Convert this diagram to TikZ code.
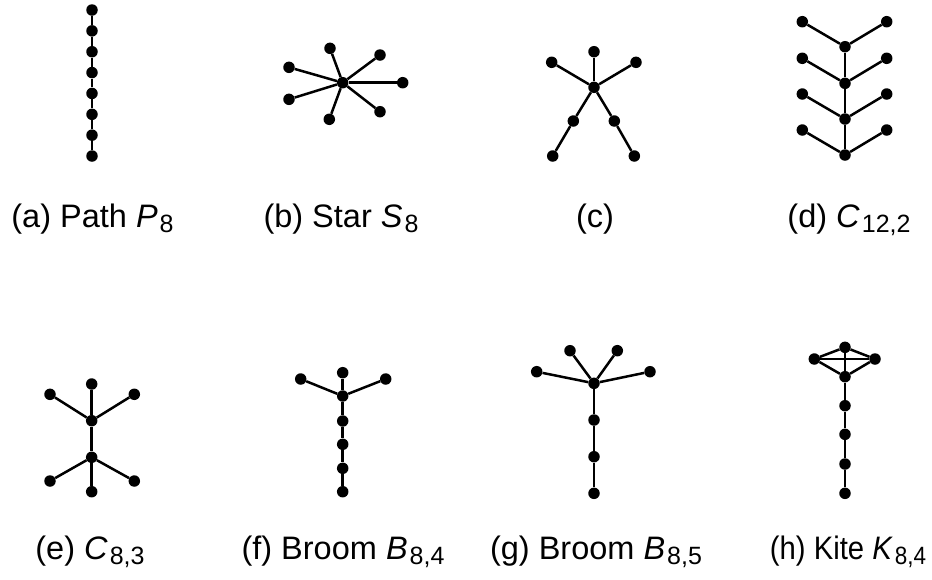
\documentclass[tikz,border=0pt]{standalone}
\usepackage{fontspec}
\setmainfont{Liberation Sans}
\tikzset{
  v/.style={circle,fill=black,inner sep=0pt,minimum size=11.5pt},
  e/.style={line width=2.5pt},
  lab/.style={anchor=base,inner sep=0pt,font=\fontsize{32.5}{38}\selectfont}
}
\newcommand{\subx}[1]{\kern2pt\raisebox{-5pt}{\fontsize{25}{30}\selectfont #1}}
\begin{document}
\begin{tikzpicture}[x=1pt,y=-1pt]
\useasboundingbox (0,0) rectangle (932,579);
% (a) path
\foreach \i in {0,...,7} \node[v] (a\i) at (92,10+20.86*\i) {};
\foreach \i [remember=\i as \j (initially 0)] in {1,...,7} \draw[e] (a\j) -- (a\i);
% (b) star
\node[v] (b0) at (342.7,82.7) {};
\node[v] (b1) at (330,48.3) {};
\node[v] (b2) at (380,55) {};
\node[v] (b3) at (289,67.3) {};
\node[v] (b4) at (402.7,82.7) {};
\node[v] (b5) at (289,99.3) {};
\node[v] (b6) at (380,111.7) {};
\node[v] (b7) at (329.3,119.3) {};
\foreach \i in {1,...,7} \draw[e] (b0) -- (b\i);
% (c)
\node[v] (c0) at (594,87.3) {};
\node[v] (c1) at (594,51.7) {};
\node[v] (c2) at (551.7,62.3) {};
\node[v] (c3) at (636,62.3) {};
\node[v] (c4) at (573.3,121) {};
\node[v] (c5) at (614.3,121) {};
\node[v] (c6) at (552.7,156) {};
\node[v] (c7) at (634.3,156) {};
\foreach \i in {1,...,5} \draw[e] (c0) -- (c\i);
\draw[e] (c4) -- (c6);
\draw[e] (c5) -- (c7);
% (d) C_{12,2}
\foreach \i/\y in {1/46.7,2/83.3,3/119,4/155} {
  \node[v] (d\i) at (845,\y) {};
  \node[v] (dl\i) at (802.3,\y-25) {};
  \node[v] (dr\i) at (886.7,\y-25) {};
  \draw[e] (d\i) -- (dl\i);
  \draw[e] (d\i) -- (dr\i);
}
\draw[e] (d1) -- (d2);
\draw[e] (d2) -- (d3);
\draw[e] (d3) -- (d4);
% (e) C_{8,3}
\node[v] (e1) at (91.7,420.7) {};
\node[v] (e2) at (91.7,457.3) {};
\node[v] (e3) at (91.7,384) {};
\node[v] (e4) at (50,394.3) {};
\node[v] (e5) at (134.3,394.3) {};
\node[v] (e6) at (50,481) {};
\node[v] (e7) at (134.3,481) {};
\node[v] (e8) at (91.7,491.7) {};
\draw[e] (e1) -- (e2);
\draw[e] (e1) -- (e3);
\draw[e] (e1) -- (e4);
\draw[e] (e1) -- (e5);
\draw[e] (e2) -- (e6);
\draw[e] (e2) -- (e7);
\draw[e] (e2) -- (e8);
% (f) Broom B_{8,4}
\node[v] (f0) at (342.7,396) {};
\node[v] (f1) at (342.7,372.7) {};
\node[v] (f2) at (300.7,379) {};
\node[v] (f3) at (385.7,379) {};
\node[v] (f4) at (342.7,421) {};
\node[v] (f5) at (342.7,444.3) {};
\node[v] (f6) at (342.7,468.3) {};
\node[v] (f7) at (342.7,491.7) {};
\foreach \i in {1,2,3,4} \draw[e] (f0) -- (f\i);
\draw[e] (f4) -- (f5);
\draw[e] (f5) -- (f6);
\draw[e] (f6) -- (f7);
% (g) Broom B_{8,5}
\node[v] (g0) at (594,383.3) {};
\node[v] (g1) at (570,350.7) {};
\node[v] (g2) at (617.3,350.7) {};
\node[v] (g3) at (536.7,371.7) {};
\node[v] (g4) at (650,371.7) {};
\node[v] (g5) at (594,420) {};
\node[v] (g6) at (594,456.7) {};
\node[v] (g7) at (594,493.3) {};
\foreach \i in {1,...,5} \draw[e] (g0) -- (g\i);
\draw[e] (g5) -- (g6);
\draw[e] (g6) -- (g7);
% (h) Kite K_{8,4}
\node[v] (h1) at (845,347.3) {};
\node[v] (h2) at (814.3,359) {};
\node[v] (h3) at (875,359) {};
\node[v] (h4) at (845,376.7) {};
\node[v] (h5) at (845,405.7) {};
\node[v] (h6) at (845,434.3) {};
\node[v] (h7) at (845,464) {};
\node[v] (h8) at (845,493.3) {};
\draw[e] (h1) -- (h2);
\draw[e] (h1) -- (h3);
\draw[e] (h1) -- (h4);
\draw[e] (h2) -- (h3);
\draw[e] (h2) -- (h4);
\draw[e] (h3) -- (h4);
\draw[e] (h4) -- (h5);
\draw[e] (h5) -- (h6);
\draw[e] (h6) -- (h7);
\draw[e] (h7) -- (h8);
% labels
\node[lab] (la) at (92.5,227) {(a) Path \textit{P}\subx{8}};
\node[lab] (lb) at (341,227) {(b) Star \textit{S}\subx{8}};
\node[lab] (lc) at (595,227) {(c)};
\node[lab] (ld) at (849,227) {(d) \textit{C}\subx{12,2}};
\node[lab] (le) at (90,559) {(e) \textit{C}\subx{8,3}};
\node[lab] (lf) at (343,559) {(f) Broom \textit{B}\subx{8,4}};
\node[lab] (lg) at (596,559) {(g) Broom \textit{B}\subx{8,5}};
\node[lab] (lh) at (848,559) {\scalebox{0.9}[1]{(h) Kite \textit{K}\subx{8,4}}};
\end{tikzpicture}
\end{document}
